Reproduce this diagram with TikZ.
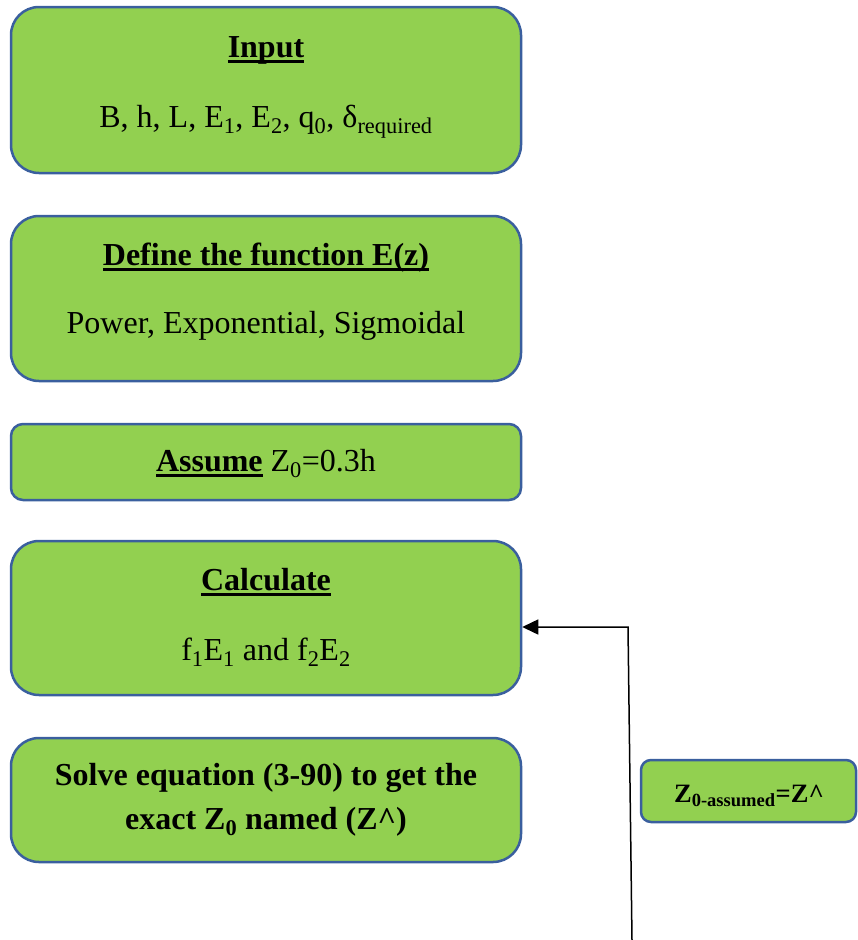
\documentclass[tikz,border=0pt]{standalone}
\usepackage{fontspec}
\setmainfont{Liberation Serif}
\usetikzlibrary{arrows.meta}
\definecolor{boxfill}{HTML}{92D050}
\definecolor{boxline}{HTML}{3A5F9E}
\tikzset{
  gbox/.style={draw=boxline, line width=2.5pt, fill=boxfill, rounded corners=#1, inner sep=0pt},
  gbox/.default=28pt,
  ttl/.style={font=\fontsize{32}{38}\selectfont\bfseries, inner sep=0pt, anchor=base},
  bdy/.style={font=\fontsize{32}{38}\selectfont, inner sep=0pt, anchor=base},
  conn/.style={line width=1.5pt, -{Triangle[length=16pt,width=15pt]}},
}
\newcommand{\ul}[1]{\setbox0\hbox{#1}\rlap{\raisebox{-5.5pt}{\rule{\wd0}{2.8pt}}}\box0}
\begin{document}
\begin{tikzpicture}[x=1pt,y=-1pt]
\useasboundingbox (0,0) rectangle (858,940);
% boxes
\node[gbox, minimum width=510pt, minimum height=166pt] (input) at (266,90) {};
\node[gbox, minimum width=510pt, minimum height=165pt] (define) at (266,298.5) {};
\node[gbox=12pt, minimum width=510pt, minimum height=76pt] (assume) at (266,462) {};
\node[gbox, minimum width=510pt, minimum height=154pt] (calc) at (266,618) {};
\node[gbox, minimum width=510pt, minimum height=124pt] (solve) at (266,800) {};
\node[gbox=10pt, minimum width=215pt, minimum height=62pt] (zbox) at (748.5,791) {};
% texts
\node[ttl] (inputT) at (266,57) {\ul{Input}};
\node[bdy] (inputB) at (266,127) {B, h, L, E\textsubscript{1}, E\textsubscript{2}, q\textsubscript{0}, δ\textsubscript{required}};
\node[ttl] (defineT) at (266,265) {\ul{Define the function E(z)}};
\node[bdy] (defineB) at (266,333) {Power, Exponential, Sigmoidal};
\node[bdy] (assumeT) at (266,471) {\textbf{\ul{Assume}} Z\textsubscript{0}=0.3h};
\node[ttl] (calcT) at (266,590) {\ul{Calculate}};
\node[bdy] (calcB) at (266,660) {f\textsubscript{1}E\textsubscript{1} and f\textsubscript{2}E\textsubscript{2}};
\node[ttl] (solveT1) at (266,785) {Solve equation (3-90) to get the};
\node[ttl] (solveT2) at (266,829) {exact Z\textsubscript{0} named (Z\^{})};
\node[ttl, font=\fontsize{26.5}{30}\selectfont\bfseries] (zT) at (749,802) {Z\textsubscript{0-assumed}=Z\^{}};
% connector
\coordinate (loopstart) at (632,940);
\coordinate (bend) at (628,627);
\draw[conn] (loopstart) -- (bend) -- (bend -| calc.east);
\end{tikzpicture}
\end{document}
